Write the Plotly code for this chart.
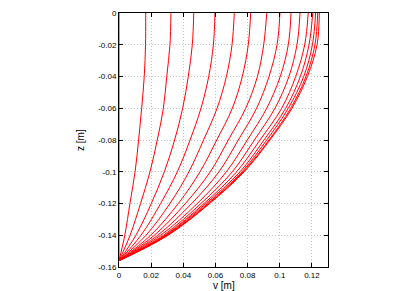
import plotly.graph_objects as go

# depth levels (m) at which each curve was read
z_levels = [0.0, -0.02, -0.04, -0.06, -0.08, -0.10, -0.12, -0.14, -0.156]

# horizontal displacement v (m) of each curve at those depths
curves = [
    [0.0, 0.0, 0.0, 0.0, 0.0, 0.0, 0.0, 0.0, 0.0],
    [0.0166, 0.0165, 0.0157, 0.0141, 0.0122, 0.0100, 0.0068, 0.0036, 0.0],
    [0.0323, 0.0317, 0.0297, 0.0276, 0.0238, 0.0193, 0.0134, 0.0069, 0.0],
    [0.0465, 0.0456, 0.0431, 0.0396, 0.0346, 0.0282, 0.0201, 0.0105, 0.0],
    [0.0597, 0.0587, 0.0558, 0.0510, 0.0442, 0.0363, 0.0259, 0.0137, 0.0],
    [0.0717, 0.0703, 0.0668, 0.0610, 0.0526, 0.0435, 0.0317, 0.0168, 0.0],
    [0.0819, 0.0804, 0.0767, 0.0705, 0.0608, 0.0504, 0.0369, 0.0197, 0.0],
    [0.0919, 0.0900, 0.0861, 0.0788, 0.0680, 0.0568, 0.0413, 0.0220, 0.0],
    [0.1001, 0.0983, 0.0933, 0.0856, 0.0742, 0.0622, 0.0452, 0.0241, 0.0],
    [0.1070, 0.1053, 0.1003, 0.0919, 0.0798, 0.0668, 0.0487, 0.0259, 0.0],
    [0.1126, 0.1107, 0.1057, 0.0970, 0.0842, 0.0705, 0.0510, 0.0276, 0.0],
    [0.1177, 0.1155, 0.1099, 0.1012, 0.0877, 0.0732, 0.0529, 0.0286, 0.0],
    [0.1205, 0.1182, 0.1128, 0.1037, 0.0902, 0.0753, 0.0541, 0.0292, 0.0],
    [0.1223, 0.1203, 0.1149, 0.1053, 0.0919, 0.0765, 0.0552, 0.0299, 0.0],
    [0.1236, 0.1219, 0.1163, 0.1068, 0.0933, 0.0773, 0.0560, 0.0303, 0.0],
    [0.1246, 0.1232, 0.1172, 0.1076, 0.0939, 0.0779, 0.0564, 0.0305, 0.0],
]

x_ticks = [0, 0.02, 0.04, 0.06, 0.08, 0.1, 0.12]
x_tick_labels = ["0", "0.02", "0.04", "0.06", "0.08", "0.1", "0.12"]
y_ticks = [0, -0.02, -0.04, -0.06, -0.08, -0.1, -0.12, -0.14, -0.16]
y_tick_labels = ["0", "-0.02", "-0.04", "-0.06", "-0.08", "-0.1", "-0.12", "-0.14", "-0.16"]
x_title = "v [m]"
y_title = "z [m]"

fig = go.Figure()
for v in curves:
    fig.add_trace(go.Scatter(x=v, y=z_levels, mode="lines",
                             line=dict(color="#ff0000", width=1, shape="spline", smoothing=1.0),
                             showlegend=False, hoverinfo="skip", cliponaxis=False))

font = dict(family="Liberation Sans, Arial, sans-serif", size=8, color="#000000")
title_font = dict(family="Liberation Sans, Arial, sans-serif", size=10, color="#000000")
axis_common = dict(showline=True, mirror="allticks", linecolor="#000000", linewidth=1,
                   ticks="inside", ticklen=4, tickcolor="#000000",
                   showgrid=True, gridcolor="#c4c4c4", griddash="1px,2px", gridwidth=1,
                   zeroline=False, tickfont=font, ticklabeloverflow="allow", automargin=False)

fig.update_layout(
    width=407, height=283,
    margin=dict(l=111, r=87, t=5, b=24, pad=0),
    paper_bgcolor="#ffffff", plot_bgcolor="#ffffff",
    xaxis=dict(range=[0, 0.13], tickvals=x_ticks, ticktext=x_tick_labels, **axis_common),
    yaxis=dict(range=[-0.16, 0], tickvals=y_ticks, ticktext=y_tick_labels, **axis_common),
    annotations=[
        dict(text=x_title, xref="paper", yref="paper", x=0.5, y=0, xanchor="center",
             yanchor="middle", yshift=-18, showarrow=False, font=title_font),
        dict(text=y_title, xref="paper", yref="paper", x=0, y=0.5, xanchor="center",
             yanchor="middle", xshift=-39, textangle=-90, showarrow=False, font=title_font),
    ],
)

fig.write_html("out.html")
